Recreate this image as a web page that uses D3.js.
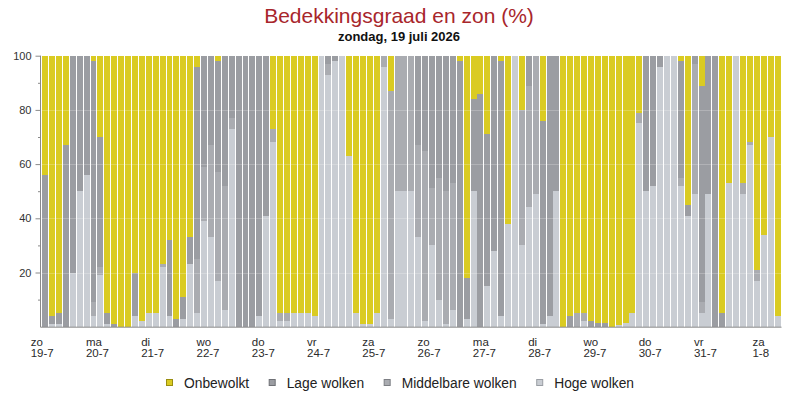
<!DOCTYPE html>
<html>
<head>
<meta charset="utf-8">
<script src="https://cdn.jsdelivr.net/npm/d3@7"></script>
<style>
  html, body { margin: 0; padding: 0; background: #fff; }
  svg { display: block; font-family: Arial, "Liberation Sans", Helvetica, sans-serif; }
</style>
</head>
<body>
<svg id="chart" width="800" height="400"></svg>
<script>
// ---- Data (3-hourly, 19-7 00:00 .. 1-8 06:00) ----
const dayNames = ["zo","ma","di","wo","do","vr","za","zo","ma","di","wo","do","vr","za"];
const dayDates = ["19-7","20-7","21-7","22-7","23-7","24-7","25-7","26-7","27-7","28-7","29-7","30-7","31-7","1-8"];
const hours = ["00","03","06","09","12","15","18","21"];
const yTicks = [20, 40, 60, 80, 100];
const yMinorTicks = [10, 30, 50, 70, 90];
const seriesNames = ["Onbewolkt", "Lage wolken", "Middelbare wolken", "Hoge wolken"];

const hoge = [
  0,1,1,0,20,50,56,4, 19,1,0,0,0,4,2,5,
  5,22,4,0,3,23,5,39, 33,17,6,73,0,0,0,4,
  41,68,2,2,5,5,5,4, 100,93,98,100,63,5,1,1,
  5,96,3,50,50,50,33,2, 30,10,1,6,0,3,50,0,
  15,28,4,38,100,30,44,49, 1,4,50,0,0,0,2,0,
  0,0,0,0.5,1.5,5,75,50, 52,96,100,100,52,41,49,5,
  49,0,0,53,100,49,67,17, 34,70,4
];
const middelbare = [
  0,0,0,0,0,0,0,5, 3,0,0,0,0,0,0,0,
  0,1,0,0,0,0,20,20, 34,40,46,4,0,0,0,0,
  0,5,3,3,0,0,0,0, 0,4,0,0,0,0,0,0,
  0,4,84,50,50,50,34,63, 21,45,49,47,0,0,0,0,
  0,0,0,0,0,50,45,51, 0,0,0,0,0,5,3,0,
  0,0,0,0,0,0,4,0, 0,0,0,0,3,0,48,4,
  0,0,0,0,0,4,1,4, 0,0,0
];
const lage = [
  56,3,4,67,80,50,44,89, 48,4,1,0,0,16,0,0,
  0,0,28,3,8,10,71,41, 33,41,48,23,100,100,100,96,
  59,0,0,0,0,0,0,0, 0,3,2,0,0,0,0,0,
  0,0,0,0,0,0,33,35, 49,45,50,47,98,15,34,86,
  56,72,94,0,0,0,11,0, 75,96,50,0,4,0,0,2,
  1.5,1.5,0,0,0,0,0,50, 48,4,0,0,43,4,3,80,
  51,100,5,0,0,0,0,0, 0,0,0
];
const onbewolkt = [
  44,96,95,33,0,0,0,2, 30,95,99,100,100,80,98,95,
  95,77,68,97,89,67,4,0, 0,2,0,0,0,0,0,0,
  0,27,95,95,95,95,95,96, 0,0,0,0,37,95,99,99,
  95,0,13,0,0,0,0,0, 0,0,0,0,2,82,16,14,
  29,0,2,62,0,20,0,0, 24,0,0,100,96,95,95,98,
  98.5,98.5,100,99.5,98.5,95,21,0, 0,0,0,0,2,55,0,11,
  0,0,95,47,0,47,32,79, 66,30,96
];

// categories: day + hour slot
const categories = [];
dayDates.forEach(d => hours.forEach(h => categories.push(d + " " + h)));
categories.length = hoge.length;

const colors = {
  "Onbewolkt": "#dacb22",
  "Lage wolken": "#9b9da2",
  "Middelbare wolken": "#aaacb1",
  "Hoge wolken": "#c9cdd3"
};
const borderColors = {
  "Onbewolkt": "#9a8e10",
  "Lage wolken": "#6f7176",
  "Middelbare wolken": "#7d7f84",
  "Hoge wolken": "#9a9ea4"
};

const rows = categories.map((c, i) => ({
  cat: c,
  "Hoge wolken": hoge[i],
  "Middelbare wolken": middelbare[i],
  "Lage wolken": lage[i],
  "Onbewolkt": onbewolkt[i]
}));

const svg = d3.select("#chart");
const pLeft = 41.7, pRight = 781, pTop = 55.7, pBottom = 326.7;

const x = d3.scaleBand().domain(categories).range([pLeft, pRight]).paddingInner(0.14).paddingOuter(0.07);
const y = d3.scaleLinear().domain([0, 100]).range([pBottom, pTop]);

// Title
svg.append("text").attr("x", 399).attr("y", 23).attr("text-anchor", "middle")
  .attr("font-size", 21).attr("fill", "#a8262b").text("Bedekkingsgraad en zon (%)");
svg.append("text").attr("x", 399).attr("y", 41).attr("text-anchor", "middle")
  .attr("font-size", 13).attr("fill", "#111").attr("font-weight", "bold")
  .text("zondag, 19 juli 2026");

// Bars
const keys = ["Hoge wolken", "Middelbare wolken", "Lage wolken", "Onbewolkt"];
const stack = d3.stack().keys(keys)(rows);
svg.append("g").selectAll("g").data(stack).join("g")
  .attr("fill", d => colors[d.key])
  .selectAll("rect").data(d => d).join("rect")
  .attr("x", d => x(d.data.cat))
  .attr("width", x.bandwidth())
  .attr("y", d => y(d[1]))
  .attr("height", d => Math.max(0, y(d[0]) - y(d[1])))
  .attr("shape-rendering", "crispEdges");

// faint grid lines over bars
svg.append("g").selectAll("line").data(yTicks.filter(v => v < 100)).join("line")
  .attr("x1", pLeft).attr("x2", pRight)
  .attr("y1", d => Math.round(y(d)) + 0.5).attr("y2", d => Math.round(y(d)) + 0.5)
  .attr("stroke", "#ffffff").attr("stroke-opacity", 0.22);

// Y axis
const yAxis = svg.append("g").attr("transform", "translate(40.5,0)")
  .call(d3.axisLeft(y).tickValues(yTicks).tickSize(5).tickPadding(4));
yAxis.select(".domain").attr("stroke", "#8a8a8a").attr("d", `M0,${pTop}V${pBottom + 0.5}`);
yAxis.selectAll(".tick line").attr("stroke", "#8a8a8a");
yAxis.selectAll(".tick text").attr("font-size", 11).attr("fill", "#333")
  .attr("font-family", "Arial, 'Liberation Sans', sans-serif");
const yMinor = svg.append("g").attr("transform", "translate(40.5,0)")
  .call(d3.axisLeft(y).tickValues(yMinorTicks).tickSize(2.5).tickFormat(""));
yMinor.select(".domain").remove();
yMinor.selectAll(".tick line").attr("stroke", "#8a8a8a");

// X axis line
svg.append("line").attr("x1", 40.5).attr("x2", pRight + 0.5)
  .attr("y1", pBottom + 0.5).attr("y2", pBottom + 0.5)
  .attr("stroke", "#8a8a8a").attr("stroke-width", 1);

// Day labels (two lines)
const dayG = svg.append("g").attr("font-size", 11.5).attr("fill", "#2a2a2a");
dayDates.forEach((d, i) => {
  const cat = categories[i * 8];
  const px = x(cat);
  const g = dayG.append("g");
  const t2 = g.append("text").attr("y", 356.5).text(d);
  const w = t2.node().getComputedTextLength();
  const xl = px - w / 2;
  t2.attr("x", xl);
  g.append("text").attr("x", xl).attr("y", 346).text(dayNames[i]);
});

// Legend
const legendOrder = ["Onbewolkt", "Lage wolken", "Middelbare wolken", "Hoge wolken"];
const lg = svg.append("g").attr("font-size", 13.8).attr("fill", "#222");
let cx = 0;
legendOrder.forEach(name => {
  const g = lg.append("g").attr("transform", `translate(${cx},0)`);
  g.append("rect").attr("x", 0.5).attr("y", 379.5).attr("width", 6).attr("height", 6)
    .attr("fill", colors[name]).attr("stroke", borderColors[name]).attr("stroke-width", 1);
  const t = g.append("text").attr("x", 18).attr("y", 387.5).text(name);
  const w = t.node().getComputedTextLength();
  cx += 18 + w + 19.5;
});
const totalW = cx - 19.5;
lg.attr("transform", `translate(${Math.round(399.5 - totalW / 2)},0)`);
</script>
</body>
</html>
